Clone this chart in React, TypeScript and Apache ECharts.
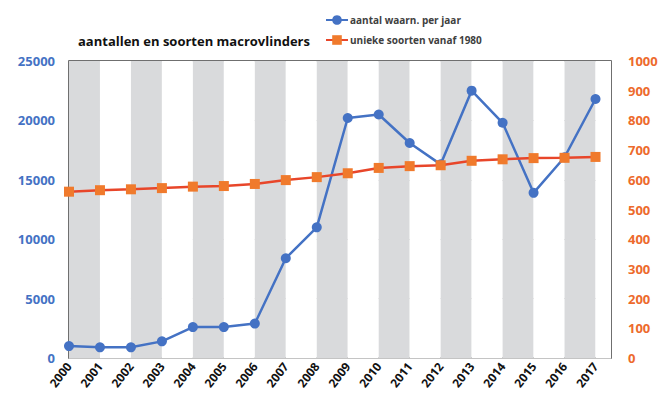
import React, { useEffect, useRef } from "react";
import * as echarts from "echarts";

const years = [2000, 2001, 2002, 2003, 2004, 2005, 2006, 2007, 2008, 2009, 2010, 2011, 2012, 2013, 2014, 2015, 2016, 2017];
const waarnemingen = [1000, 900, 900, 1400, 2600, 2600, 2900, 8400, 11000, 20200, 20500, 18100, 16300, 22500, 19800, 13900, 16900, 21800];
const soorten = [560, 565, 568, 572, 577, 579, 586, 599, 609, 622, 640, 646, 649, 664, 669, 673, 674, 677];

const BLUE = "#4472c4";
const ORANGE = "#ed6a2c";
const FONT = "'Open Sans', 'Noto Sans', sans-serif";

export default function App() {
  const ref = useRef<HTMLDivElement>(null);
  useEffect(() => {
    if (!ref.current) return;
    const chart = echarts.init(ref.current, null, { renderer: "svg" });
    chart.setOption({
      animation: false,
      backgroundColor: "#ffffff",
      title: {
        text: "aantallen en soorten macrovlinders",
        left: 73,
        top: 29,
        textStyle: { fontFamily: FONT, fontSize: 13, fontWeight: "bold", color: "#111" },
      },
      legend: {
        orient: "vertical",
        left: 320,
        top: 10,
        itemWidth: 22,
        itemHeight: 12,
        itemGap: 10,
        textStyle: { fontFamily: FONT, fontSize: 10, fontWeight: "bold", color: "#404040", padding: [0, 0, 0, -3] },
        data: ["aantal waarn. per jaar", "unieke soorten vanaf 1980"],
      },
      grid: {
        left: 69,
        right: 51,
        top: 61,
        bottom: 42,
        show: true,
        borderColor: "#404040",
        borderWidth: 1.5,
        backgroundColor: "transparent",
      },
      xAxis: {
        type: "value",
        min: 2000,
        max: 2017.5,
        interval: 1,
        axisLine: { show: false },
        axisTick: { show: false },
        splitLine: { show: false },
        splitArea: { show: true, areaStyle: { color: ["#d9dadc", "#ffffff"] } },
        axisLabel: {
          rotate: 52,
          showMaxLabel: false,
          margin: 6,
          formatter: (v: number) => (Number.isInteger(v) ? String(v) : ""),
          fontFamily: FONT,
          fontSize: 12,
          fontWeight: "bold",
          color: "#111",
        },
      },
      yAxis: [
        {
          type: "value",
          min: 0,
          max: 25000,
          interval: 5000,
          axisLine: { show: false },
          axisTick: { show: false },
          splitLine: { show: true, lineStyle: { color: "#c4c4c4", width: 1 } },
          axisLabel: { margin: 14, formatter: (v: number) => String(v), fontFamily: FONT, fontSize: 13, fontWeight: "bold", color: BLUE },
        },
        {
          type: "value",
          min: 0,
          max: 1000,
          interval: 100,
          position: "right",
          axisLine: { show: false },
          axisTick: { show: false },
          splitLine: { show: false },
          axisLabel: { margin: 17, formatter: (v: number) => String(v), fontFamily: FONT, fontSize: 13, fontWeight: "bold", color: ORANGE },
        },
      ],
      series: [
        {
          name: "aantal waarn. per jaar",
          type: "line",
          yAxisIndex: 0,
          data: years.map((y, i) => [y, waarnemingen[i]]),
          symbol: "circle",
          symbolSize: 10,
          lineStyle: { color: BLUE, width: 2.5 },
          itemStyle: { color: BLUE },
          z: 3,
        },
        {
          name: "unieke soorten vanaf 1980",
          type: "line",
          yAxisIndex: 1,
          data: years.map((y, i) => [y, soorten[i]]),
          symbol: "rect",
          symbolSize: 10,
          lineStyle: { color: "#e8462a", width: 2.5 },
          itemStyle: { color: "#f07a2c" },
          z: 4,
        },
      ],
    });
    return () => chart.dispose();
  }, []);
  return <div ref={ref} style={{ width: 662, height: 400, position: "absolute", left: 0, top: 0 }} />;
}
